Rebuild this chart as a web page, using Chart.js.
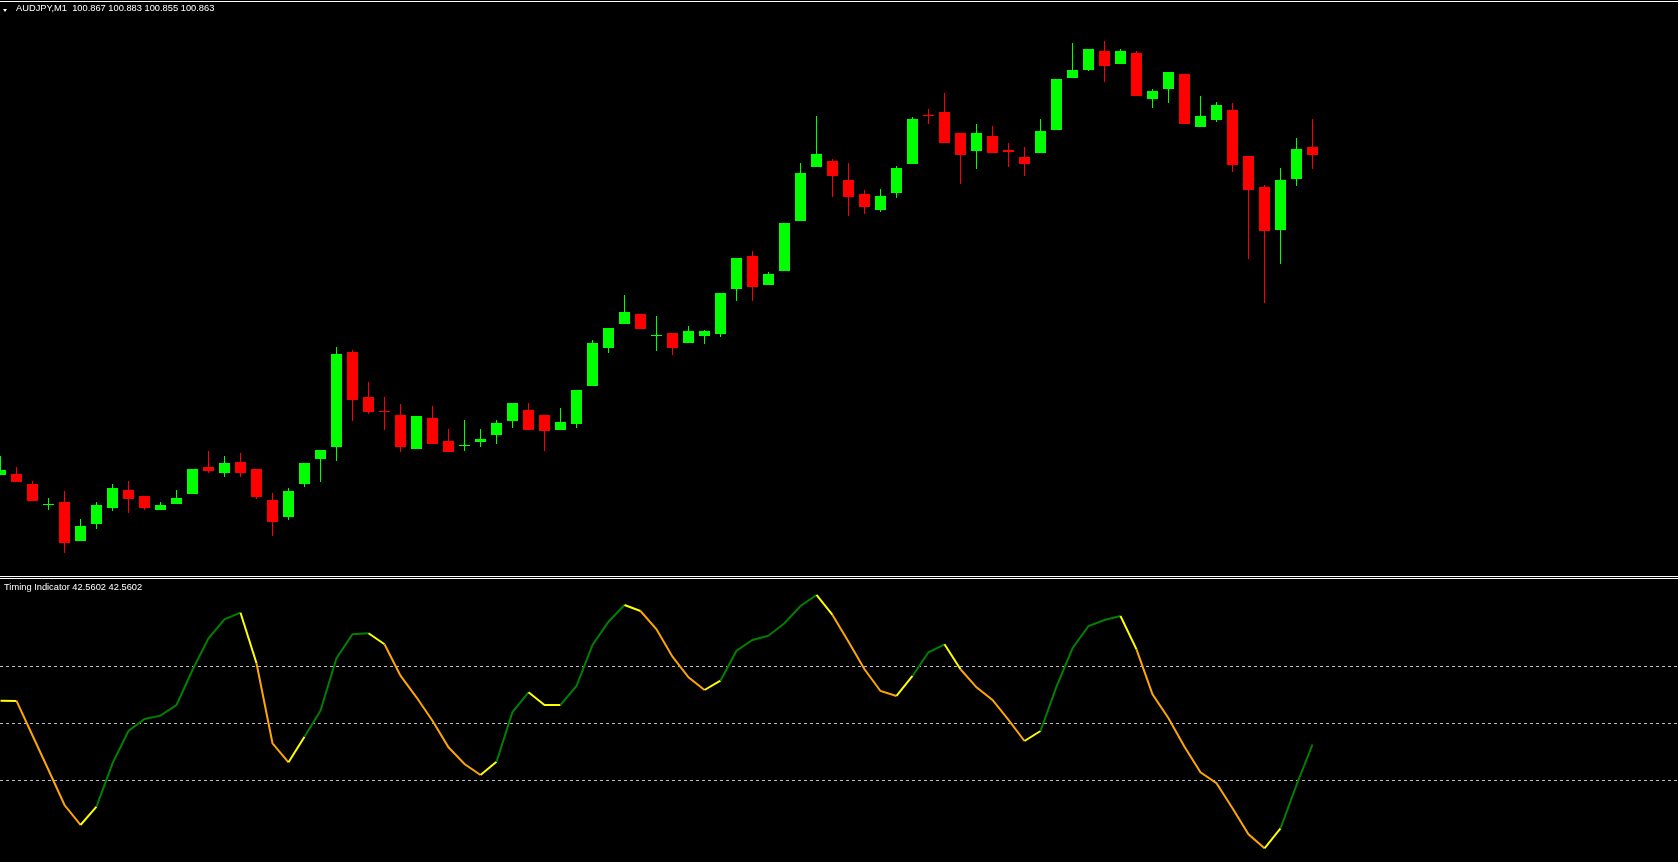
<!DOCTYPE html>
<html>
<head>
<meta charset="utf-8">
<script src="https://cdn.jsdelivr.net/npm/chart.js@4.4.1/dist/chart.umd.min.js"></script>
<style>
  html, body { margin:0; padding:0; background:#000; overflow:hidden; }
  #wrap { position:relative; width:1678px; height:862px; background:#000; }
  canvas { position:absolute; left:0; }
  .hline { position:absolute; left:0; width:1678px; height:1px; background:#fff; z-index:5; }
  .lbl { position:absolute; font-family:"Liberation Sans", Arial, sans-serif; font-size:9.3px; line-height:11px; color:#fff; white-space:pre; z-index:6; }
  #tri { position:absolute; left:3px; top:9px; width:0; height:0; border-left:2.5px solid transparent; border-right:2.5px solid transparent; border-top:3px solid #fff; z-index:6; }
</style>
</head>
<body>
<div id="wrap">
  <canvas id="main" width="1678" height="576" style="top:0;width:1678px;height:576px"></canvas>
  <canvas id="ind" width="1678" height="282" style="top:580px;width:1678px;height:282px"></canvas>
  <div class="hline" style="top:1px"></div>
  <div class="hline" style="top:576px"></div>
  <div class="hline" style="top:578px"></div>
  <div id="tri"></div>
  <div class="lbl" id="hdr" style="left:16px;top:3px"></div>
  <div class="lbl" id="indlbl" style="left:4px;top:582px"></div>
</div>
<script>
// ---- data ----
const symbolLabel = "AUDJPY,M1";
const headerValues = ["100.867", "100.883", "100.855", "100.863"];
const indicatorName = "Timing Indicator";
const indicatorValues = ["42.5602", "42.5602"];

const opens = [100.7025,100.703,100.698,100.6875,100.689,100.6695,100.678,100.686,100.695,100.692,
  100.685,100.688,100.693,100.7065,100.7035,100.709,100.7055,100.690,100.6815,100.698,
  100.7105,100.7165,100.764,100.7415,100.7345,100.7325,100.7155,100.731,100.7195,100.717,
  100.719,100.7225,100.7295,100.735,100.7325,100.725,100.728,100.747,100.766,100.778,
  100.783,100.772,100.7735,100.7685,100.772,100.773,100.7955,100.812,100.7975,100.8045,
  100.8295,100.8565,100.8595,100.850,100.843,100.835,100.8435,100.858,100.8825,100.884,
  100.8735,100.8645,100.872,100.865,100.8615,100.8635,100.875,100.901,100.905,100.9145,
  100.908,100.9135,100.8905,100.8955,100.903,100.8765,100.880,100.885,100.862,100.8465,
  100.825,100.8505,100.8665];
const highs = [100.712,100.7065,100.6995,100.691,100.6945,100.6805,100.689,100.698,100.6995,100.692,
  100.689,100.695,100.7055,100.7145,100.712,100.7135,100.7055,100.6935,100.696,100.7085,
  100.715,100.7665,100.765,100.749,100.7415,100.738,100.732,100.737,100.7255,100.730,
  100.7255,100.730,100.7385,100.7385,100.7325,100.736,100.745,100.770,100.776,100.7925,
  100.783,100.782,100.7735,100.777,100.775,100.7935,100.811,100.8145,100.804,100.8285,
  100.8585,100.882,100.8605,100.8585,100.845,100.8455,100.857,100.8815,100.8855,100.8935,
  100.8735,100.878,100.877,100.8685,100.8665,100.8805,100.9005,100.9185,100.9155,100.9195,
  100.9155,100.9145,100.8955,100.904,100.903,100.892,100.889,100.8885,100.862,100.8475,
  100.856,100.871,100.8805];
const lows = [100.7025,100.699,100.6895,100.685,100.6635,100.6695,100.6755,100.6845,100.6835,100.685,
  100.685,100.688,100.693,100.7035,100.7015,100.7015,100.6905,100.672,100.680,100.6965,
  100.699,100.7095,100.7295,100.733,100.725,100.714,100.7155,100.718,100.714,100.7145,
  100.7165,100.718,100.726,100.725,100.7145,100.725,100.726,100.747,100.7635,100.778,
  100.7755,100.7645,100.7625,100.7685,100.768,100.7715,100.7895,100.7895,100.7975,100.8045,
  100.8295,100.8565,100.8415,100.832,100.833,100.834,100.841,100.858,100.878,100.8685,
  100.848,100.8555,100.8635,100.8565,100.852,100.8635,100.875,100.901,100.9045,100.899,
  100.908,100.892,100.886,100.8885,100.878,100.8765,100.879,100.854,100.8105,100.7885,
  100.808,100.847,100.8555];
const closes = [100.705,100.699,100.6895,100.6875,100.6685,100.677,100.6875,100.696,100.6905,100.686,
  100.6875,100.691,100.7055,100.7045,100.7085,100.7035,100.6915,100.679,100.6945,100.7085,
  100.715,100.763,100.740,100.734,100.734,100.7165,100.732,100.718,100.714,100.717,
  100.7205,100.7285,100.7385,100.725,100.7245,100.729,100.745,100.7685,100.776,100.784,
  100.7755,100.772,100.766,100.7745,100.7745,100.7935,100.811,100.7965,100.803,100.8285,
  100.8535,100.863,100.852,100.8415,100.8365,100.842,100.856,100.8805,100.882,100.8685,
  100.8625,100.8735,100.8635,100.864,100.858,100.8745,100.9005,100.905,100.9155,100.907,
  100.9145,100.892,100.8945,100.904,100.878,100.882,100.8875,100.8575,100.845,100.8245,
  100.850,100.8655,100.8625];
const timing = [57.93,57.86,45.72,33.61,21.33,14.32,20.74,35.96,47.30,51.51,
  52.67,56.42,68.70,79.82,86.49,88.81,71.05,42.98,36.32,45.30,
  54.42,72.81,81.23,81.58,77.72,66.70,59.12,50.91,41.58,35.72,
  31.86,36.53,53.96,60.88,56.42,56.46,63.09,77.47,85.65,91.51,
  89.40,82.98,73.37,66.14,61.68,64.95,75.47,79.23,80.74,85.09,
  91.16,95.02,88.00,78.63,68.95,61.33,59.58,66.60,74.91,77.72,
  68.95,62.63,58.18,51.16,43.79,47.30,62.84,76.32,84.14,86.25,
  87.65,75.96,60.18,51.75,41.79,32.81,28.95,20.18,11.05,6.14,
  13.16,28.35,42.5602];
const levels = [70, 50, 30];

// ---- text ----
document.getElementById('hdr').textContent = symbolLabel + "  " + headerValues.join(" ");
document.getElementById('indlbl').textContent = indicatorName + " " + indicatorValues.join(" ");

// ---- styles ----
const BULL = '#00ff00', BEAR = '#ff0000';
const UPC = '#008000', DNC = '#ffa500', TURN = '#ffff00';
const X_MIN = -0.03125, X_MAX = 104.84375;

const candleColor = i => closes[i] >= opens[i] ? BULL : BEAR;

const hiddenX = { type:'linear', min:X_MIN, max:X_MAX, display:false, offset:false };

new Chart(document.getElementById('main'), {
  type: 'bar',
  data: {
    datasets: [
      {
        data: opens.map((o, i) => ({ x: i, y: [o, closes[i]] })),
        backgroundColor: c => candleColor(c.dataIndex),
        barThickness: 11, minBarLength: 1, grouped: false, borderWidth: 0, inflateAmount: 0
      },
      {
        data: highs.map((h, i) => ({ x: i, y: [lows[i], h] })),
        backgroundColor: c => candleColor(c.dataIndex),
        barThickness: 1, minBarLength: 1, grouped: false, borderWidth: 0, inflateAmount: 0
      }
    ]
  },
  options: {
    responsive: false, devicePixelRatio: 1, animation: false,
    layout: { padding: 0 },
    plugins: { legend: { display:false }, tooltip: { enabled:false } },
    scales: {
      x: hiddenX,
      y: { type:'linear', min:100.652, max:100.940, display:false }
    }
  }
});

function sgn(v) { return v > 0 ? 1 : (v < 0 ? -1 : 0); }
function segColor(i) {
  const d = sgn(timing[i + 1] - timing[i]);
  if (i === 0) return TURN;
  const pd = sgn(timing[i] - timing[i - 1]);
  if (d !== pd || d === 0) return TURN;
  return d > 0 ? UPC : DNC;
}

const levelPlugin = {
  id: 'levels',
  beforeDatasetsDraw(chart) {
    const ctx = chart.ctx, ys = chart.scales.y;
    ctx.save();
    ctx.strokeStyle = '#c0c0c0';
    ctx.lineWidth = 1;
    ctx.setLineDash([3, 3]);
    levels.forEach(l => {
      const y = Math.round(ys.getPixelForValue(l)) + 0.5;
      ctx.beginPath(); ctx.moveTo(0, y); ctx.lineTo(chart.width, y); ctx.stroke();
    });
    ctx.restore();
  }
};

new Chart(document.getElementById('ind'), {
  type: 'line',
  data: {
    datasets: [{
      data: timing.map((v, i) => ({ x: i, y: v })),
      borderWidth: 2, pointRadius: 0, tension: 0, fill: false,
      borderColor: UPC,
      segment: { borderColor: c => segColor(c.p0DataIndex) }
    }]
  },
  options: {
    responsive: false, devicePixelRatio: 1, animation: false,
    layout: { padding: 0 },
    plugins: { legend: { display:false }, tooltip: { enabled:false } },
    scales: {
      x: hiddenX,
      y: { type:'linear', min:1.33, max:100.28, display:false }
    }
  },
  plugins: [levelPlugin]
});
</script>
</body>
</html>
